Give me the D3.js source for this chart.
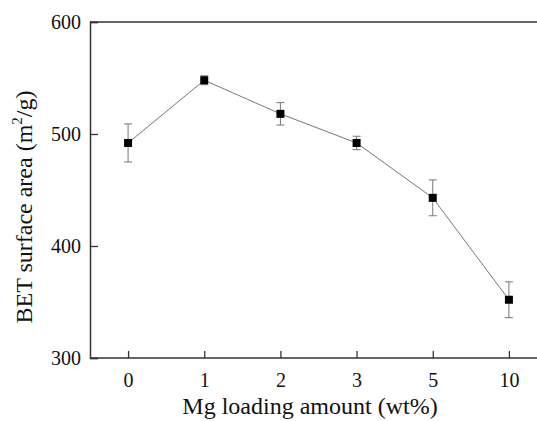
<!DOCTYPE html>
<html>
<head>
<meta charset="utf-8">
<script src="https://cdn.jsdelivr.net/npm/d3@7"></script>
<style>
  body { margin: 0; background: #fff; }
  svg { display: block; }
</style>
</head>
<body>
<svg id="chart" width="537" height="421"></svg>
<script>
// Mg loading (wt%) vs BET surface area
const loadings = ['0', '1', '2', '3', '5', '10'];
const surfaceArea = [492, 548, 518, 492, 443, 352];
const errorBars = [17, 4, 10, 6, 16, 16];
const yTicks = [300, 400, 500, 600];

const serif = '"Liberation Serif", "Times New Roman", serif';

const svg = d3.select('#chart');
const margin = { left: 90, top: 22, bottom: 358 };
const plotRight = 547;

const x = d3.scalePoint()
    .domain(loadings)
    .range([margin.left, plotRight])
    .padding(0.5);

const y = d3.scaleLinear()
    .domain([300, 600])
    .range([margin.bottom, margin.top]);

const data = loadings.map((d, i) => ({ k: d, v: surfaceArea[i], e: errorBars[i] }));

// frame: top line runs off to the right edge
svg.append('line')
    .attr('x1', margin.left).attr('x2', plotRight)
    .attr('y1', margin.top).attr('y2', margin.top)
    .attr('stroke', '#333').attr('stroke-width', 1.5);

// x axis, ticks pointing inward
const xAxis = svg.append('g')
    .attr('transform', `translate(0,${margin.bottom})`)
    .call(d3.axisBottom(x).tickSize(-7).tickPadding(15));
xAxis.select('.domain').attr('d', `M${margin.left},0H${plotRight}`);

// y axis
const yAxis = svg.append('g')
    .attr('transform', `translate(${margin.left},0)`)
    .call(d3.axisLeft(y).tickValues(yTicks).tickSize(-8).tickPadding(9));

svg.selectAll('.domain').attr('stroke', '#333').attr('stroke-width', 1.5);
svg.selectAll('.tick line').attr('stroke', '#333').attr('stroke-width', 1.3);
[xAxis, yAxis].forEach(a => a.attr('font-family', null).attr('font-size', null));
svg.selectAll('.tick text')
    .style('font-family', serif)
    .style('font-size', '20px')
    .attr('fill', '#111');
yAxis.selectAll('.tick text').attr('dy', '0.34em');

// connecting line
svg.append('path')
    .datum(data)
    .attr('fill', 'none')
    .attr('stroke', '#777')
    .attr('stroke-width', 1)
    .attr('d', d3.line().x(d => x(d.k)).y(d => y(d.v)));

// error bars
const err = svg.append('g').attr('stroke', '#777').attr('stroke-width', 1);
data.forEach(d => {
    const cx = x(d.k);
    err.append('line')
        .attr('x1', cx).attr('x2', cx)
        .attr('y1', y(d.v + d.e)).attr('y2', y(d.v - d.e));
    [d.v + d.e, d.v - d.e].forEach(v => {
        err.append('line')
            .attr('x1', cx - 4).attr('x2', cx + 4)
            .attr('y1', y(v)).attr('y2', y(v));
    });
});

// square markers
svg.append('g')
    .selectAll('rect')
    .data(data)
    .join('rect')
    .attr('x', d => x(d.k) - 4)
    .attr('y', d => y(d.v) - 4)
    .attr('width', 8)
    .attr('height', 8)
    .attr('fill', '#000');

// axis titles
svg.append('text')
    .attr('x', 310)
    .attr('y', 414)
    .attr('text-anchor', 'middle')
    .style('font-family', serif)
    .style('font-size', '24px')
    .attr('fill', '#111')
    .text('Mg loading amount (wt%)');

const yTitle = svg.append('text')
    .attr('transform', 'translate(32,207) rotate(-90)')
    .attr('text-anchor', 'middle')
    .style('font-family', serif)
    .style('font-size', '24px')
    .attr('fill', '#111');
yTitle.append('tspan').text('BET surface area (m');
yTitle.append('tspan').style('font-size', '15px').attr('dy', -10).text('2');
yTitle.append('tspan').attr('dy', 10).text('/g)');
</script>
</body>
</html>
